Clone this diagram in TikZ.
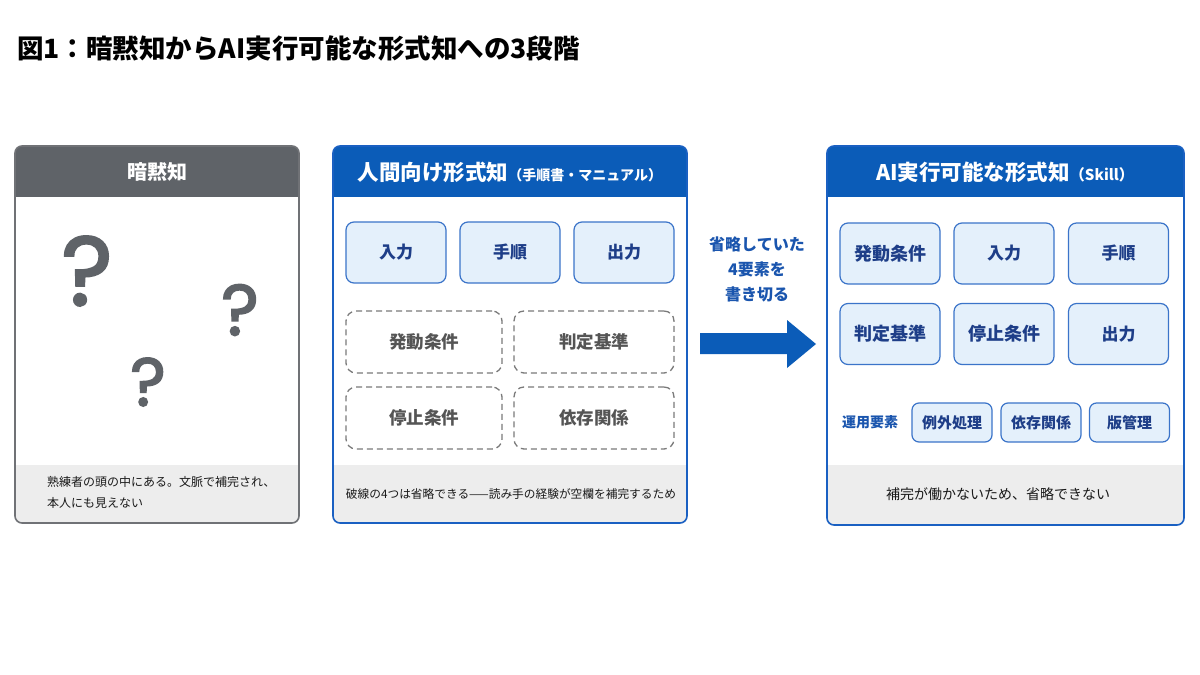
\documentclass[tikz,border=0pt]{standalone}
\usepackage{fontspec}
\setmainfont{Noto Sans CJK JP}
\newfontface\qfont{Poppins}[FakeBold=2.2]
\definecolor{hdrgray}{HTML}{5F6368}
\definecolor{brdgray}{HTML}{707276}
\definecolor{hdrblue}{HTML}{0B5CB8}
\definecolor{brdblue}{HTML}{1A60C2}
\definecolor{boxfill}{HTML}{E4F0FB}
\definecolor{boxline}{HTML}{3B74C9}
\definecolor{boxtext}{HTML}{1E3E88}
\definecolor{footgray}{HTML}{EDEDED}
\definecolor{dashline}{HTML}{7A7A7A}
\definecolor{dashtext}{HTML}{555555}
\definecolor{qgray}{HTML}{5F6368}
\definecolor{arrowblue}{HTML}{0B5CB8}
\definecolor{lblblue}{HTML}{1A55AE}
\tikzset{
  hdrtxt/.style={text=white, font=\fontsize{20}{20}\selectfont\bfseries, inner sep=0},
  sbox/.style={draw=boxline, fill=boxfill, rounded corners=8, line width=1.2pt, text=boxtext,
    font=\fontsize{17}{17}\selectfont\bfseries, inner sep=0, minimum width=100pt, minimum height=61pt},
  smallbox/.style={draw=boxline, fill=boxfill, rounded corners=7, line width=1.2pt, text=boxtext,
    font=\fontsize{15}{15}\selectfont\bfseries, inner sep=0, minimum width=80pt, minimum height=39pt},
  dbox/.style={draw=dashline, dash pattern=on 6pt off 4pt, rounded corners=10, line width=1.3pt, text=dashtext,
    font=\fontsize{17.5}{17.5}\selectfont\bfseries, inner sep=0, minimum width=156pt, minimum height=62pt},
  foottxt/.style={text=black!90, font=\fontsize{12}{21}\selectfont, inner sep=0, align=left},
  qmark/.style={text=qgray, inner sep=0},
  arrtxt/.style={text=lblblue, font=\fontsize{16}{25}\selectfont\bfseries, align=center, inner sep=0}
}
\newcommand\mypanel[6]{%
  \begin{scope}
    \clip[rounded corners=7] (#1,#2) rectangle (#3,#4);
    \fill[white] (#1,#2) rectangle (#3,#4);
    \fill[#5] (#1,#2) rectangle (#3,197);
    \fill[footgray] (#1,465) rectangle (#3,#4);
  \end{scope}
  \draw[#6, line width=1.6pt, rounded corners=7] (#1,#2) rectangle (#3,#4);
}
\begin{document}
\begin{tikzpicture}[x=1pt,y=-1pt]
\useasboundingbox[fill=white] (0,0) rectangle (1200,675);

% title
\node[anchor=west, inner sep=0, font=\fontsize{26.5}{26.5}\selectfont\bfseries] (title) at (17,48) {図1：暗黙知からAI実行可能な形式知への3段階};

% panel 1
\mypanel{15}{146}{299}{523}{hdrgray}{brdgray}
\node[hdrtxt] (h1) at (157,172) {暗黙知};
\node[qmark, font=\fontsize{98}{98}\qfont] (q1) at (87,271) {?};
\node[qmark, font=\fontsize{72}{72}\qfont] (q2) at (240,310) {?};
\node[qmark, font=\fontsize{68}{68}\qfont] (q3) at (148,382) {?};
\node[foottxt, anchor=west] (f1) at (47,492) {熟練者の頭の中にある。文脈で補完され、\\本人にも見えない};

% panel 2
\mypanel{333}{146}{687}{523}{hdrblue}{brdblue}
\node[hdrtxt, font=\fontsize{21.5}{21.5}\selectfont\bfseries] (h2) at (510,172) {人間向け形式知\fontsize{14}{14}\selectfont（手順書・マニュアル）};
\node[sbox] (b21) at (396,252.5) {入力};
\node[sbox] (b22) at (510,252.5) {手順};
\node[sbox] (b23) at (624,252.5) {出力};
\node[dbox] (d1) at (424,342) {発動条件};
\node[dbox, minimum width=160pt] (d2) at (594,342) {判定基準};
\node[dbox] (d3) at (424,418) {停止条件};
\node[dbox, minimum width=160pt] (d4) at (594,418) {依存関係};
\node[foottxt, font=\fontsize{11.7}{11.7}\selectfont] (f2) at (511,494) {破線の4つは省略できる——読み手の経験が空欄を補完するため};

% middle arrow
\node[arrtxt] (at) at (757,269) {省略していた\\4要素を\\書き切る};
\fill[arrowblue] (700,333) coordinate (a0) -- (787,333) -- (787,320) -- (816,344) coordinate (a1) -- (787,368) -- (787,354) -- (700,354) -- cycle;

% panel 3
\mypanel{827}{146}{1184}{525}{hdrblue}{brdblue}
\node[hdrtxt, font=\fontsize{21.5}{21.5}\selectfont\bfseries] (h3) at (1005,172) {AI実行可能な形式知\fontsize{15}{15}\selectfont（Skill）};
\node[sbox, font=\fontsize{18}{18}\selectfont\bfseries] (c1) at (890,253.5) {発動条件};
\node[sbox] (c2) at (1004,253.5) {入力};
\node[sbox] (c3) at (1118.5,253.5) {手順};
\node[sbox, font=\fontsize{18}{18}\selectfont\bfseries] (c4) at (890,334) {判定基準};
\node[sbox, font=\fontsize{18}{18}\selectfont\bfseries] (c5) at (1004,334) {停止条件};
\node[sbox] (c6) at (1118.5,334) {出力};
\node[text=lblblue, font=\fontsize{14}{14}\selectfont\bfseries, inner sep=0] (ul) at (870,422) {運用要素};
\node[smallbox] (e1) at (952,422.5) {例外処理};
\node[smallbox] (e2) at (1041,422.5) {依存関係};
\node[smallbox] (e3) at (1129.5,422.5) {版管理};
\node[foottxt, font=\fontsize{14}{14}\selectfont] (f3) at (998,494) {補完が働かないため、省略できない};
\end{tikzpicture}
\end{document}
